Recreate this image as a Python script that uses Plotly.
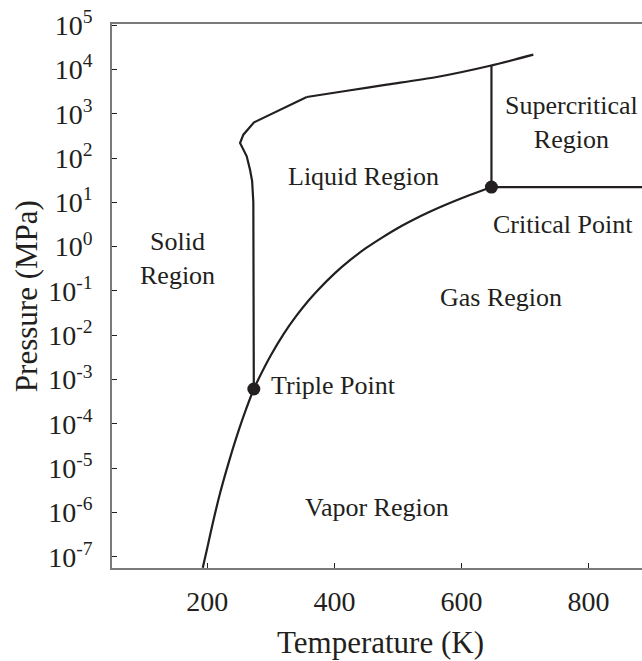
import plotly.graph_objects as go

# Phase diagram of water: temperature (K) vs pressure (MPa, log scale)

# Sublimation + vaporization curve, from the low-temperature end up to the critical point
vap_T = [192.8, 200, 210, 220, 230, 240, 250, 260, 273.16, 280, 300, 320, 340, 360, 373.15,
         400, 425, 450, 475, 500, 525, 550, 575, 600, 625, 647.1]
vap_P = [5.6e-8, 1.6e-7, 7.0e-7, 2.7e-6, 8.9e-6, 2.7e-5, 7.6e-5, 1.96e-4, 6.11e-4, 9.9e-4,
         3.54e-3, 1.06e-2, 2.72e-2, 6.22e-2, 0.1013, 0.2458, 0.50, 0.932, 1.60, 2.64,
         4.10, 6.12, 8.80, 12.34, 16.9, 22.06]

# Melting curve of ice Ih, III and V (triple point up to the ice V/VI junction)
melt_low_T = [273.16, 273.15, 273.0, 272.4, 270.5, 267.2, 262.0, 255.1, 251.5, 256.7, 273.5,
              356.5]
melt_low_P = [6.11e-4, 0.1, 1.0, 10.0, 30.0, 54.5, 109.0, 183.0, 218.0, 336.0, 637.0,
              2380.0]
# Melting curve of ice VII, continuing to the highest pressures shown
melt_high_T = [356.5, 420.0, 482.4, 561.1, 645.0, 713.0]
melt_high_P = [2380.0, 3300.0, 4520.0, 6740.0, 12100.0, 21500.0]

# Supercritical boundaries starting at the critical point
crit_T, crit_P = 647.1, 22.06
super_vert_T = [crit_T, crit_T]
super_vert_P = [crit_P, 12300.0]
super_horiz_T = [crit_T, 900.0]
super_horiz_P = [crit_P, crit_P]

# Marked points
point_T = [273.16, crit_T]
point_P = [6.11e-4, crit_P]

# Axis ticks
x_ticks = [200, 400, 600, 800]
y_exponents = [-7, -6, -5, -4, -3, -2, -1, 0, 1, 2, 3, 4, 5]
y_tickvals = [10.0 ** e for e in y_exponents]
y_ticktext = [f"10<sup>{e}</sup>" for e in y_exponents]

# Region labels (temperature, log10 pressure)
labels = [
    ("Supercritical<br>Region", 773.5, 2.807),
    ("Critical Point", 760.4, 0.495),
    ("Liquid Region", 445.6, 1.585),
    ("Solid<br>Region", 153.3, -0.273),
    ("Gas Region", 662.3, -1.153),
    ("Vapor Region", 467.1, -5.894),
]
triple_label = ("Triple Point", 297.6, -3.140)

INK = "#231f20"
FONT = "Liberation Serif"

fig = go.Figure()
line_style = dict(color=INK, width=2.2)
fig.add_trace(go.Scatter(x=vap_T, y=vap_P, mode="lines",
                         line=dict(color=INK, width=2.2, shape="spline", smoothing=0.8),
                         hoverinfo="skip", showlegend=False))
fig.add_trace(go.Scatter(x=melt_low_T, y=melt_low_P, mode="lines", line=line_style,
                         hoverinfo="skip", showlegend=False))
fig.add_trace(go.Scatter(x=melt_high_T, y=melt_high_P, mode="lines",
                         line=dict(color=INK, width=2.2, shape="spline", smoothing=0.8),
                         hoverinfo="skip", showlegend=False))
for xs, ys in [(super_vert_T, super_vert_P), (super_horiz_T, super_horiz_P)]:
    fig.add_trace(go.Scatter(x=xs, y=ys, mode="lines", line=line_style,
                             hoverinfo="skip", showlegend=False))

fig.add_trace(go.Scatter(x=point_T, y=point_P, mode="markers",
                         marker=dict(color=INK, size=13), showlegend=False))

annotations = []
for text, tx, ty in labels:
    annotations.append(dict(text=text, x=tx, y=ty, xref="x", yref="y",
                            showarrow=False, xanchor="center", yanchor="middle",
                            font=dict(family=FONT, size=26, color=INK)))
annotations.append(dict(text=triple_label[0], x=triple_label[1], y=triple_label[2],
                        xref="x", yref="y", showarrow=False, xanchor="left",
                        yanchor="middle", font=dict(family=FONT, size=26, color=INK)))
# Axis titles
annotations.append(dict(text="Temperature (K)", x=0.5075, y=-0.137, xref="paper", yref="paper",
                        showarrow=False, xanchor="center", yanchor="middle",
                        font=dict(family=FONT, size=31, color=INK)))
annotations.append(dict(text="Pressure (MPa)", x=-0.162, y=0.5, xref="paper", yref="paper",
                        showarrow=False, xanchor="center", yanchor="middle", textangle=-90,
                        font=dict(family=FONT, size=31, color=INK)))

fig.update_layout(
    width=642, height=661,
    margin=dict(l=112, r=0, t=24, b=93),
    paper_bgcolor="white", plot_bgcolor="white",
    annotations=annotations,
    font=dict(family=FONT, color=INK),
    xaxis=dict(range=[50, 884], tickvals=x_ticks, ticks="inside", ticklen=5, tickwidth=1.2,
               tickcolor=INK, showline=True, linecolor="#7a7a7a", linewidth=1.6, mirror=True,
               showgrid=False, zeroline=False, ticklabelstandoff=8,
               tickfont=dict(family=FONT, size=28, color=INK)),
    yaxis=dict(type="log", range=[-7.255, 5.025], tickvals=y_tickvals, ticktext=y_ticktext,
               ticks="inside", ticklen=5, tickwidth=1.2, tickcolor=INK, showline=True,
               linecolor="#7a7a7a", linewidth=1.6, showgrid=False, zeroline=False,
               ticklabelstandoff=12, tickfont=dict(family=FONT, size=28, color=INK)),
)

fig.write_html("out.html")
